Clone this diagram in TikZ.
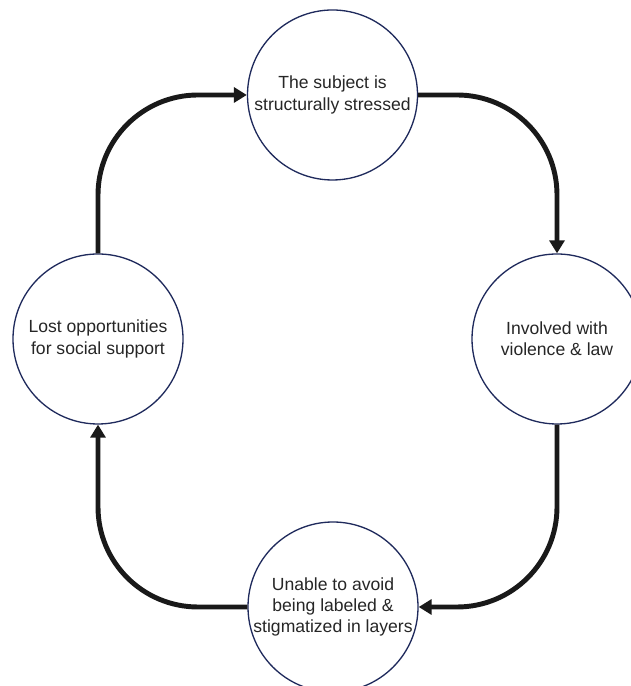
\documentclass[tikz,border=0pt]{standalone}
\usepackage{fontspec}
\setmainfont{Liberation Sans}
\usetikzlibrary{arrows.meta,positioning}
\definecolor{ringblue}{RGB}{31,42,92}
\definecolor{textgray}{RGB}{38,38,38}

\begin{document}
\begin{tikzpicture}[
    > = {Triangle[length=0.26cm,width=0.3cm]}, % arrow head style
    flow/.style = {->, line width=2.8pt, draw=black!90, rounded corners=2cm}, % cycle arrows
    ]

    \tikzset{phase/.style={
    circle,
    draw = ringblue,
    line width = 0.75pt,
    fill = white,
    text = textgray,
    align = center,
    inner sep = 0pt,
    minimum size = 3.4cm,
    font = \fontsize{10}{12.2}\selectfont
    }}

    \useasboundingbox (0,0) rectangle (12.6,13.72);

    \node[phase] (stress) at (6.65,11.82) {The subject is\\structurally stressed};
    \node[phase] (law) at (11.14,6.94) {Involved with\\violence \& law};
    \node[phase] (label) at (6.66,1.58) {Unable to avoid\\being labeled \&\\stigmatized in layers};
    \node[phase] (lost) at (1.96,6.94) {Lost opportunities\\for social support};

    \draw[flow] (lost.north) |- (stress.west);
    \draw[flow] (stress.east) -| (law.north);
    \draw[flow] (law.south) |- (label.east);
    \draw[flow] (label.west) -| (lost.south);
\end{tikzpicture}
\end{document}
